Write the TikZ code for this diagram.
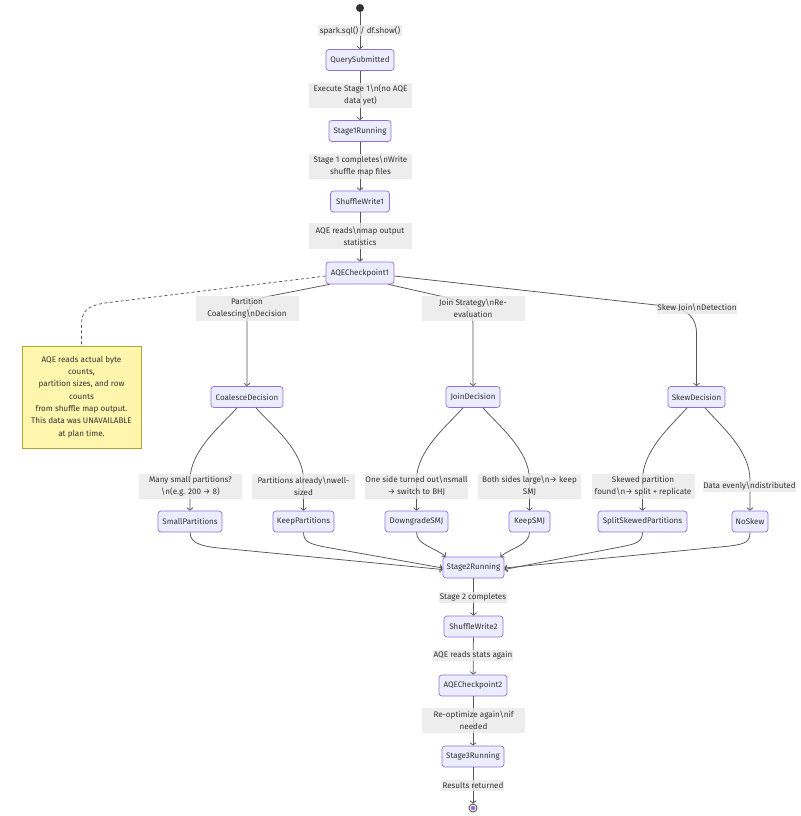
\documentclass[tikz,border=0pt]{standalone}
\usepackage{fontspec}
\setmainfont{Fira Sans}
\usetikzlibrary{arrows.meta,calc}
\definecolor{nodefill}{HTML}{ECECFF}
\definecolor{nodeborder}{HTML}{9370DB}
\definecolor{lblfill}{HTML}{E8E8E8}
\definecolor{notefill}{HTML}{FFF5AD}
\definecolor{noteborder}{HTML}{AAAA33}
\definecolor{edgecol}{HTML}{555555}
\definecolor{txt}{HTML}{333333}
\begin{document}
\begin{tikzpicture}[x=1pt,y=-1pt,
  state/.style={draw=nodeborder, fill=nodefill, rounded corners=3pt, line width=0.7pt,
    minimum height=21pt, inner sep=0pt, font=\fontsize{8}{9}\selectfont, text=txt},
  lbl/.style={fill=lblfill, fill opacity=0.8, text opacity=1, inner sep=0pt, align=center,
    minimum height=11pt, font=\fontsize{8.1}{12}\selectfont, text=txt},
  lbltwo/.style={lbl, minimum width=103pt, minimum height=25pt},
  edge/.style={draw=edgecol, line width=0.75pt, -{Straight Barb[length=2.5pt,width=6pt]}},
  link/.style={draw=edgecol, line width=0.75pt},
  notebox/.style={draw=noteborder, fill=notefill, line width=0.7pt, minimum width=119pt,
    minimum height=102pt, align=center, inner sep=0pt, font=\fontsize{8.1}{12.3}\selectfont, text=txt}
]
\useasboundingbox (0,0) rectangle (800,816);

% states
\node[circle, fill=txt, minimum size=8pt, inner sep=0pt] (start) at (360,8) {};
\node[state, minimum width=68pt] (QS) at (360,60) {QuerySubmitted};
\node[state, minimum width=62pt] (S1R) at (360,131) {Stage1Running};
\node[state, minimum width=59pt] (SW1) at (360,201.5) {ShuffleWrite1};
\node[state, minimum width=68pt, minimum height=22pt] (AQE1) at (360,273) {AQECheckpoint1};
\node[notebox] (note) at (81.5,397) {AQE reads actual byte\\counts,\\partition sizes, and row\\counts\\from shuffle map output.\\This data was UNAVAILABLE\\at plan time.};
\node[state, minimum width=72pt] (CD) at (247,397) {CoalesceDecision};
\node[state, minimum width=54pt] (JD) at (473,397) {JoinDecision};
\node[state, minimum width=57pt] (SD) at (696.5,397) {SkewDecision};
\node[state, minimum width=64pt] (SP) at (190,521.5) {SmallPartitions};
\node[state, minimum width=61pt] (KP) at (303.5,521.5) {KeepPartitions};
\node[state, minimum width=63pt] (DS) at (416.5,521.5) {DowngradeSMJ};
\node[state, minimum width=41pt] (KS) at (529.5,521.5) {KeepSMJ};
\node[state, minimum width=89pt] (SSP) at (642.5,521.5) {SplitSkewedPartitions};
\node[state, minimum width=36pt] (NS) at (750,521.5) {NoSkew};
\node[state, minimum width=61pt] (S2R) at (473.5,567.5) {Stage2Running};
\node[state, minimum width=59pt] (SW2) at (473.5,626.5) {ShuffleWrite2};
\node[state, minimum width=68pt] (AQE2) at (473,685.5) {AQECheckpoint2};
\node[state, minimum width=62pt] (S3R) at (473,756.5) {Stage3Running};
\node[circle, draw=txt, fill=white, line width=0.7pt, minimum size=8pt, inner sep=0pt] (end) at (473,808) {};
\fill[nodeborder] (end.center) circle (2.3pt);

% edges
\draw[edge] (start) -- (QS);
\draw[edge] (QS) -- (S1R);
\draw[edge] (S1R) -- (SW1);
\draw[edge] (SW1) -- (AQE1);
\draw[edge] ($(AQE1.south west)+(4,0)$) -- (265,297) .. controls (250,300) and (247,310) .. (247,324) -- (CD.north);
\draw[edge] ($(AQE1.south east)+(-6,0)$) -- (440,296) .. controls (466,301) and (473,310) .. (473,326) -- (JD.north);
\draw[edge] ($(AQE1.east)+(0,3)$) -- (665,306) .. controls (689,309) and (696.5,318) .. (696.5,334) -- (SD.north);
\draw[link, dash pattern=on 3pt off 2.5pt] ($(AQE1.west)+(0,3)$) -- (105,303) .. controls (86,306) and (81.5,312) .. (81.5,325) -- (note.north);

\draw[edge] ($(CD.south)+(-10,0)$) .. controls (222,425) and (190,450) .. (190,480) -- (SP.north);
\draw[edge] ($(CD.south)+(9,0)$) .. controls (271,425) and (303.5,450) .. (303.5,480) -- (KP.north);
\draw[edge] ($(JD.south)+(-10,0)$) .. controls (448,425) and (416.5,450) .. (416.5,480) -- (DS.north);
\draw[edge] ($(JD.south)+(10,0)$) .. controls (498,425) and (529.5,450) .. (529.5,480) -- (KS.north);
\draw[edge] ($(SD.south)+(-9.5,0)$) .. controls (672,425) and (642.5,450) .. (642.5,480) -- (SSP.north);
\draw[edge] ($(SD.south)+(8.5,0)$) .. controls (720,425) and (750,450) .. (750,480) -- (NS.north);

\draw[edge] (SP.south) .. controls (190,545) and (205,547) .. (230,549) -- ($(S2R.west)+(0,2)$);
\draw[edge] (KP.south) .. controls (303.5,542) and (310,544) .. (325,547) -- ($(S2R.west)+(0,0.5)$);
\draw[edge] (DS.south) .. controls (416.5,545) and (436,548) .. ($(S2R.north west)+(3,0)$);
\draw[edge] (KS.south) .. controls (529.5,545) and (511,548) .. ($(S2R.north east)+(-4,0)$);
\draw[edge] (SSP.south) .. controls (642.5,542) and (636,544) .. (620,547) -- ($(S2R.east)+(0,2)$);
\draw[edge] (NS.south) .. controls (750,542) and (745,544) .. (730,546) -- ($(S2R.east)+(0,0.5)$);

\draw[edge] (S2R) -- (SW2);
\draw[edge] (SW2) -- (AQE2);
\draw[edge] (AQE2) -- (S3R);
\draw[edge] (S3R) -- (end);

% edge labels
\node[lbl, inner xsep=1.5pt] (l1) at (360,30.5) {spark.sql() / df.show()};
\node[lbltwo] (l2) at (360.5,95) {Execute Stage 1\textbackslash n(no AQE\\data yet)};
\node[lbltwo] (l3) at (360.5,166) {Stage 1 completes\textbackslash nWrite\\shuffle map files};
\node[lbltwo, minimum height=26pt] (l4) at (360,236) {AQE reads\textbackslash nmap output\\statistics};
\node[lbltwo] (lC) at (247,308) {Partition\\Coalescing\textbackslash nDecision};
\node[lbltwo] (lJ) at (473,308) {Join Strategy\textbackslash nRe-\\evaluation};
\node[lbl, inner xsep=0.5pt] (lS) at (697,308) {Skew Join\textbackslash nDetection};
\node[lbltwo] (lSP) at (190.5,486) {Many small partitions?\\\textbackslash n(e.g. 200 → 8)};
\node[lbltwo] (lKP) at (303.5,486) {Partitions already\textbackslash nwell-\\sized};
\node[lbltwo] (lDS) at (416.5,486) {One side turned out\textbackslash nsmall\\→ switch to BHJ};
\node[lbltwo] (lKS) at (529.5,486) {Both sides large\textbackslash n→ keep\\SMJ};
\node[lbltwo] (lSS) at (643,486) {Skewed partition\\found\textbackslash n→ split + replicate};
\node[lbl, inner xsep=0.5pt] (lNS) at (749.5,486) {Data evenly\textbackslash ndistributed};
\node[lbl, inner xsep=1pt] (l5) at (473,597.5) {Stage 2 completes};
\node[lbl, inner xsep=1pt] (l6) at (473,655.5) {AQE reads stats again};
\node[lbltwo] (l7) at (473.5,720.5) {Re-optimize again\textbackslash nif\\needed};
\node[lbl, inner xsep=1pt] (l8) at (473,785.5) {Results returned};
\end{tikzpicture}
\end{document}
